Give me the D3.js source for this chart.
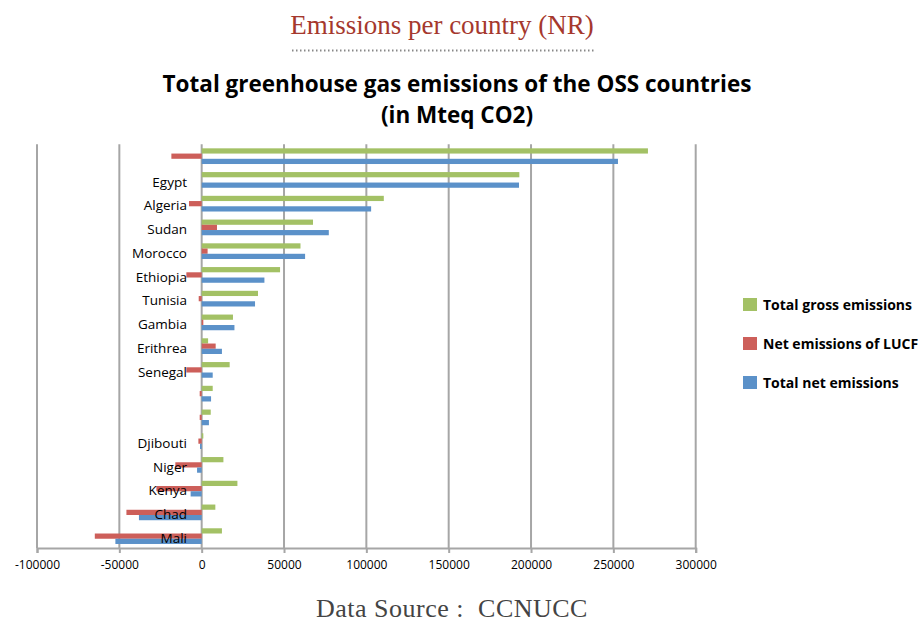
<!DOCTYPE html>
<html>
<head>
<meta charset="utf-8">
<script src="https://cdn.jsdelivr.net/npm/d3@7"></script>
<style>
  body { margin: 0; background: #fff; }
  svg { display: block; }
</style>
</head>
<body>
<div id="chart"></div>
<script>
// top to bottom, as on the picture (some rows carry no label)
var categories = ['', 'Egypt', 'Algeria', 'Sudan', 'Morocco', 'Ethiopia', 'Tunisia', 'Gambia',
  'Erithrea', 'Senegal', '', '', 'Djibouti', 'Niger', 'Kenya', 'Chad', 'Mali']

var grossEmissions = [271000, 192900, 110600, 67600, 60000, 47600, 34200, 19000,
  3900, 17000, 6700, 5500, 1000, 13200, 21700, 8300, 12300]
var lucfEmissions = [-18400, 0, -7700, 9300, 3600, -9300, -1800, 1000,
  8500, -9300, -1200, -1200, -2000, -16000, -27500, -45700, -64900]
var netEmissions = [252800, 192700, 102900, 77200, 62800, 38100, 32400, 19900,
  12300, 6700, 5700, 4400, -1000, -2800, -6700, -38100, -52400]

var seriesNames = ['Total gross emissions', 'Net emissions of LUCF', 'Total net emissions']
var xTicks = [-100000, -50000, 0, 50000, 100000, 150000, 200000, 250000, 300000]

var colors = ['#a3c165', '#cd5f5a', '#5b91c9']
var seriesValues = [grossEmissions, lucfEmissions, netEmissions]

var width = 923, height = 625
var svg = d3.select('#chart').append('svg')
  .attr('width', width).attr('height', height)

// header
svg.append('text')
  .attr('x', 442).attr('y', 34)
  .attr('text-anchor', 'middle')
  .style('font-family', '"Liberation Serif", serif')
  .style('font-size', '27px')
  .style('fill', '#a5382d')
  .text('Emissions per country (NR)')

svg.append('line')
  .attr('x1', 292).attr('x2', 596).attr('y1', 50.5).attr('y2', 50.5)
  .attr('stroke', '#888').attr('stroke-width', 2)
  .attr('stroke-dasharray', '1.5,2.5')

var title = svg.append('text')
  .attr('text-anchor', 'middle')
  .style('font-family', '"Open Sans", sans-serif')
  .style('font-weight', 700)
  .style('font-size', '22.5px')
  .style('fill', '#000')
title.append('tspan').attr('x', 457).attr('y', 92)
  .text('Total greenhouse gas emissions of the OSS countries')
title.append('tspan').attr('x', 457).attr('y', 123)
  .text('(in Mteq CO2)')

var x = d3.scaleLinear().domain([-100000, 300000]).range([37, 695.7])
var y0 = d3.scaleBand().domain(d3.range(categories.length)).range([144.3, 548])
var y1 = d3.scaleBand().domain(d3.range(3)).range([0, y0.bandwidth()]).paddingOuter(0.77)

// gridlines
svg.append('g').selectAll('line')
  .data(xTicks)
  .join('line')
  .attr('x1', d => x(d)).attr('x2', d => x(d))
  .attr('y1', y0.range()[0]).attr('y2', y0.range()[1])
  .attr('stroke', '#a6a6a6').attr('stroke-width', 2)

// bars
var groups = svg.append('g').selectAll('g')
  .data(categories)
  .join('g')
  .attr('transform', (d, i) => 'translate(0,' + y0(i) + ')')

groups.selectAll('rect')
  .data((d, i) => seriesValues.map((s, k) => ({k: k, v: s[i]})))
  .join('rect')
  .attr('x', d => x(Math.min(0, d.v)))
  .attr('width', d => Math.abs(x(d.v) - x(0)))
  .attr('y', d => y1(d.k))
  .attr('height', y1.bandwidth())
  .attr('fill', d => colors[d.k])

// x axis
var xAxis = d3.axisBottom(x).tickValues(xTicks).tickSize(5).tickPadding(7)
  .tickFormat(d => String(d))
var gx = svg.append('g')
  .attr('transform', 'translate(0,' + y0.range()[1] + ')')
  .call(xAxis)
gx.select('.domain').attr('stroke', '#a6a6a6').attr('stroke-width', 2)
gx.selectAll('.tick line').attr('stroke', '#a6a6a6').attr('stroke-width', 2)
gx.selectAll('.tick text')
  .style('font-family', '"Open Sans", sans-serif')
  .style('font-size', '12px')
  .style('fill', '#000')

// category labels, drawn over the bars
svg.append('g').selectAll('text')
  .data(categories)
  .join('text')
  .attr('x', 187)
  .attr('y', (d, i) => y0(i) + y0.bandwidth() / 2 + 2)
  .attr('dy', '0.35em')
  .attr('text-anchor', 'end')
  .style('font-family', '"Open Sans", sans-serif')
  .style('font-size', '13.5px')
  .style('fill', '#000')
  .text(d => d)

// legend
var legend = svg.append('g').selectAll('g')
  .data(seriesNames)
  .join('g')
  .attr('transform', (d, i) => 'translate(743,' + (305 + i * 39) + ')')

legend.append('rect')
  .attr('x', 0).attr('y', -7).attr('width', 14).attr('height', 13)
  .attr('fill', (d, i) => colors[i])

legend.append('text')
  .attr('x', 20).attr('y', 0).attr('dy', '0.35em')
  .style('font-family', '"Open Sans", sans-serif')
  .style('font-weight', 700)
  .style('font-size', '14px')
  .style('fill', '#000')
  .text(d => d)

svg.append('text')
  .attr('x', 452).attr('y', 617)
  .attr('text-anchor', 'middle')
  .style('font-family', '"Liberation Serif", serif')
  .style('font-size', '26px')
  .style('letter-spacing', '0.5px')
  .style('fill', '#444')
  .attr('xml:space', 'preserve')
  .text('Data Source :  CCNUCC')
</script>
</body>
</html>
